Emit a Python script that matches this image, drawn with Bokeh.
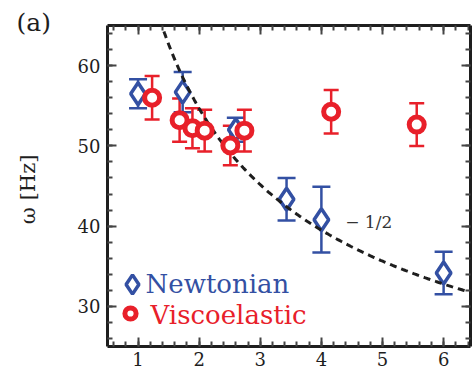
import numpy as np
from bokeh.plotting import figure
from bokeh.models import (ColumnDataSource, Whisker, TeeHead, Legend, LegendItem,
                          FixedTicker, LinearAxis, Label, Range1d)
from bokeh.embed import file_html
from bokeh.resources import INLINE

# ---------------- data ----------------
newt_x = [1.0, 1.73, 2.6, 3.43, 4.0, 6.0]
newt_y = [56.5, 56.7, 52.0, 43.35, 40.8, 34.15]
newt_err = [1.8, 2.5, 1.5, 2.65, 4.1, 2.65]

visc_x = [1.23, 1.68, 1.89, 2.09, 2.51, 2.74, 4.16, 5.56]
visc_y = [56.0, 53.2, 52.2, 51.9, 50.05, 51.9, 54.25, 52.65]
visc_err = [2.7, 2.7, 2.5, 2.6, 2.45, 2.6, 2.7, 2.65]

# power-law guide  omega ~ k^(-1/2)
guide_exponent = -0.5
guide_coef = 73.2
guide_offset = 2.9
guide_label = "\u2212 1/2"

x_ticks = [1, 2, 3, 4, 5, 6]
y_ticks = [30, 40, 50, 60]
series_names = ["Newtonian", "Viscoelastic"]
y_label = "\u03c9  [Hz]"
panel_label = "(a)"

BLUE = "#3350a3"
RED = "#e8202a"
INK = "#1e1e1e"
FONT = "DejaVu Serif"

# ---------------- figure ----------------
p = figure(width=472, height=376, x_range=Range1d(0.5, 6.44), y_range=Range1d(25, 65),
           output_backend="svg", toolbar_location=None,
           min_border_left=107, min_border_right=2, min_border_top=25, min_border_bottom=30)
p.xgrid.visible = False
p.ygrid.visible = False
p.outline_line_color = None
p.background_fill_color = "white"

# panel tag "(a)" as the plot title, pulled to the top-left corner
p.title.text = panel_label
p.title.text_font = FONT
p.title.text_font_size = "25px"
p.title.text_font_style = "normal"
p.title.text_color = INK
p.title.align = "left"
p.title.offset = -91
p.title.standoff = -22

x_minor = [round(v, 2) for v in np.arange(0.6, 6.44, 0.2)]
y_minor = list(range(26, 65, 2))


def style_axis(ax, ticks, minor, show_labels):
    ax.ticker = FixedTicker(ticks=ticks, minor_ticks=minor)
    ax.axis_line_width = 3
    ax.axis_line_color = INK
    ax.major_tick_in = 9
    ax.major_tick_out = 0
    ax.minor_tick_in = 5
    ax.minor_tick_out = 0
    ax.major_tick_line_width = 2
    ax.minor_tick_line_width = 2
    ax.major_tick_line_color = "#444444"
    ax.minor_tick_line_color = "#444444"
    if show_labels:
        ax.major_label_text_font = FONT
        ax.major_label_text_font_size = "18px"
        ax.major_label_text_color = INK
    else:
        ax.major_label_text_font_size = "0px"
        ax.major_label_text_color = None
        ax.major_label_standoff = 0


style_axis(p.xaxis[0], x_ticks, x_minor, True)
style_axis(p.yaxis[0], y_ticks, y_minor, True)
p.xaxis[0].major_label_standoff = 5
p.yaxis[0].major_label_standoff = 7
p.yaxis[0].axis_label = y_label
p.yaxis[0].axis_label_text_font = FONT
p.yaxis[0].axis_label_text_font_size = "21px"
p.yaxis[0].axis_label_text_font_style = "normal"
p.yaxis[0].axis_label_text_color = INK
p.yaxis[0].axis_label_standoff = 35

top_ax = LinearAxis()
right_ax = LinearAxis()
style_axis(top_ax, x_ticks, x_minor, False)
style_axis(right_ax, y_ticks, y_minor, False)
p.add_layout(top_ax, "above")
p.add_layout(right_ax, "right")

# ---------------- error bars ----------------
src_n = ColumnDataSource(dict(x=newt_x, y=newt_y,
                              upper=[a + b for a, b in zip(newt_y, newt_err)],
                              lower=[a - b for a, b in zip(newt_y, newt_err)]))
src_v = ColumnDataSource(dict(x=visc_x, y=visc_y,
                              upper=[a + b for a, b in zip(visc_y, visc_err)],
                              lower=[a - b for a, b in zip(visc_y, visc_err)]))

for src, col, cap in ((src_n, BLUE, 18), (src_v, RED, 15)):
    w = Whisker(base="x", upper="upper", lower="lower", source=src, dimension="height",
                line_color=col, line_width=2.5, level="underlay",
                upper_head=TeeHead(size=cap, line_color=col, line_width=2.5),
                lower_head=TeeHead(size=cap, line_color=col, line_width=2.5))
    p.add_layout(w)

# ---------------- marks ----------------
r_n = p.scatter("x", "y", source=src_n, marker="diamond", size=22,
                fill_color="white", line_color=BLUE, line_width=3.5)

gx = np.linspace(1.3, 6.44, 200)
gy = guide_coef * gx ** guide_exponent + guide_offset
p.line(gx, gy, line_color=INK, line_width=3, line_dash="7 5")

r_v = p.scatter("x", "y", source=src_v, marker="circle", size=15,
                fill_color="white", line_color=RED, line_width=5)

p.add_layout(Label(x=4.39, y=40.5, text=guide_label, text_font=FONT,
                   text_font_size="17px", text_color="#333333", text_baseline="middle"))

# ---------------- legend (glyphs from Legend, texts as labels) ----------------
leg_n = Legend(items=[LegendItem(label=series_names[0], renderers=[r_n])],
               location=(1, 38), glyph_width=48, glyph_height=48, label_standoff=0,
               label_text_font_size="1px", label_text_color=None,
               border_line_color=None, background_fill_alpha=0, padding=0, margin=0,
               spacing=0)
leg_v = Legend(items=[LegendItem(label=series_names[1], renderers=[r_v])],
               location=(9, 19), glyph_width=28, glyph_height=28, label_standoff=0,
               label_text_font_size="1px", label_text_color=None,
               border_line_color=None, background_fill_alpha=0, padding=0, margin=0,
               spacing=0)
p.add_layout(leg_n)
p.add_layout(leg_v)

for name, col, lx, ly in ((series_names[0], BLUE, 38, 62.5), (series_names[1], RED, 43, 32)):
    p.add_layout(Label(x=lx, y=ly, x_units="screen", y_units="screen", text=name,
                       text_font=FONT, text_font_size="26px", text_color=col,
                       text_baseline="middle"))

open("out.html", "w").write(file_html(p, INLINE))
